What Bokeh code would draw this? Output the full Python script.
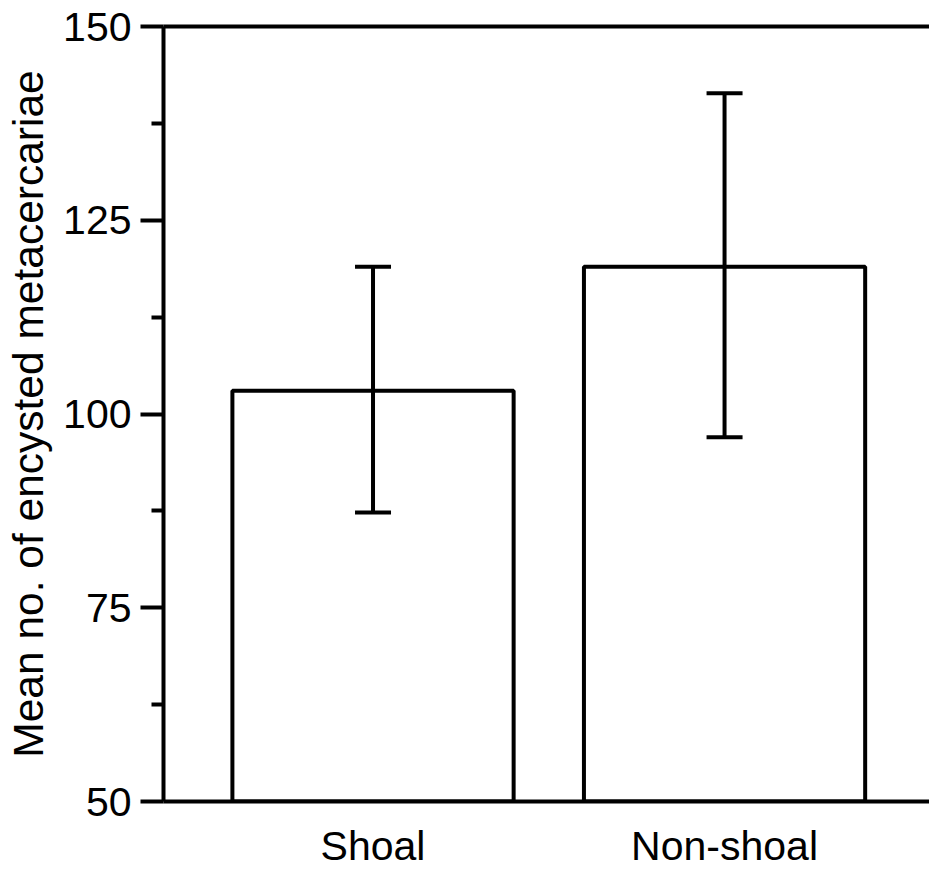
from bokeh.plotting import figure
from bokeh.models import (ColumnDataSource, FixedTicker, LinearAxis, Range1d,
                          Whisker, TeeHead)
from bokeh.embed import file_html
from bokeh.resources import INLINE

categories = ["Shoal", "Non-shoal"]
positions = [1, 2]
means = [103.0, 119.0]
err_lower = [87.3, 97.0]
err_upper = [119.0, 141.4]
y_ticks = [50, 75, 100, 125, 150]
y_minor = [62.5, 87.5, 112.5, 137.5]
y_title = "Mean no. of encysted metacercariae"

FONT = "Liberation Sans"
FS = "41px"
LW = 4

src = ColumnDataSource(dict(x=positions, top=means, lo=err_lower, hi=err_upper,
                            bottom=[50] * len(means)))

p = figure(width=929, height=872, output_backend="svg", toolbar_location=None,
           x_range=Range1d(0.404, 2.583), y_range=Range1d(50, 150),
           frame_width=766, frame_height=775,
           min_border_left=163, min_border_right=0, min_border_top=26,
           min_border_bottom=71, tools="")
p.outline_line_color = None
p.background_fill_color = "white"
p.border_fill_color = "white"
p.xgrid.grid_line_color = None
p.ygrid.grid_line_color = None

p.vbar(x="x", top="top", bottom="bottom", width=0.8, source=src,
       fill_color="white", line_color="black", line_width=LW)

w = Whisker(base="x", lower="lo", upper="hi", source=src, line_width=LW,
            line_color="black", level="overlay",
            upper_head=TeeHead(size=36, line_width=LW, line_color="black"),
            lower_head=TeeHead(size=36, line_width=LW, line_color="black"))
p.add_layout(w)

# y axis
ya = p.yaxis[0]
ya.ticker = FixedTicker(ticks=y_ticks, minor_ticks=y_minor)
ya.axis_line_width = LW
ya.major_tick_line_width = LW
ya.minor_tick_line_width = LW
ya.major_tick_out = 23
ya.major_tick_in = 0
ya.minor_tick_out = 12
ya.minor_tick_in = 0
ya.major_label_text_font = FONT
ya.major_label_text_font_size = FS
ya.major_label_text_color = "black"
ya.major_label_standoff = 9
ya.axis_label = y_title
ya.axis_label_text_font = FONT
ya.axis_label_text_font_size = "42.5px"
ya.axis_label_text_font_style = "normal"
ya.axis_label_text_color = "black"
ya.axis_label_standoff = 8

# x axis
xa = p.xaxis[0]
xa.ticker = FixedTicker(ticks=positions)
xa.major_label_overrides = {pos: c for pos, c in zip(positions, categories)}
xa.axis_line_width = LW
xa.major_tick_line_color = None
xa.minor_tick_line_color = None
xa.major_tick_out = 0
xa.major_tick_in = 0
xa.major_label_text_font = FONT
xa.major_label_text_font_size = FS
xa.major_label_text_color = "black"
xa.major_label_standoff = 21

# top line
top = LinearAxis(ticker=FixedTicker(ticks=[]), axis_line_width=LW,
                 major_tick_line_color=None, minor_tick_line_color=None,
                 major_label_text_font_size="0px")
p.add_layout(top, "above")

open("out.html", "w").write(file_html(p, INLINE))
